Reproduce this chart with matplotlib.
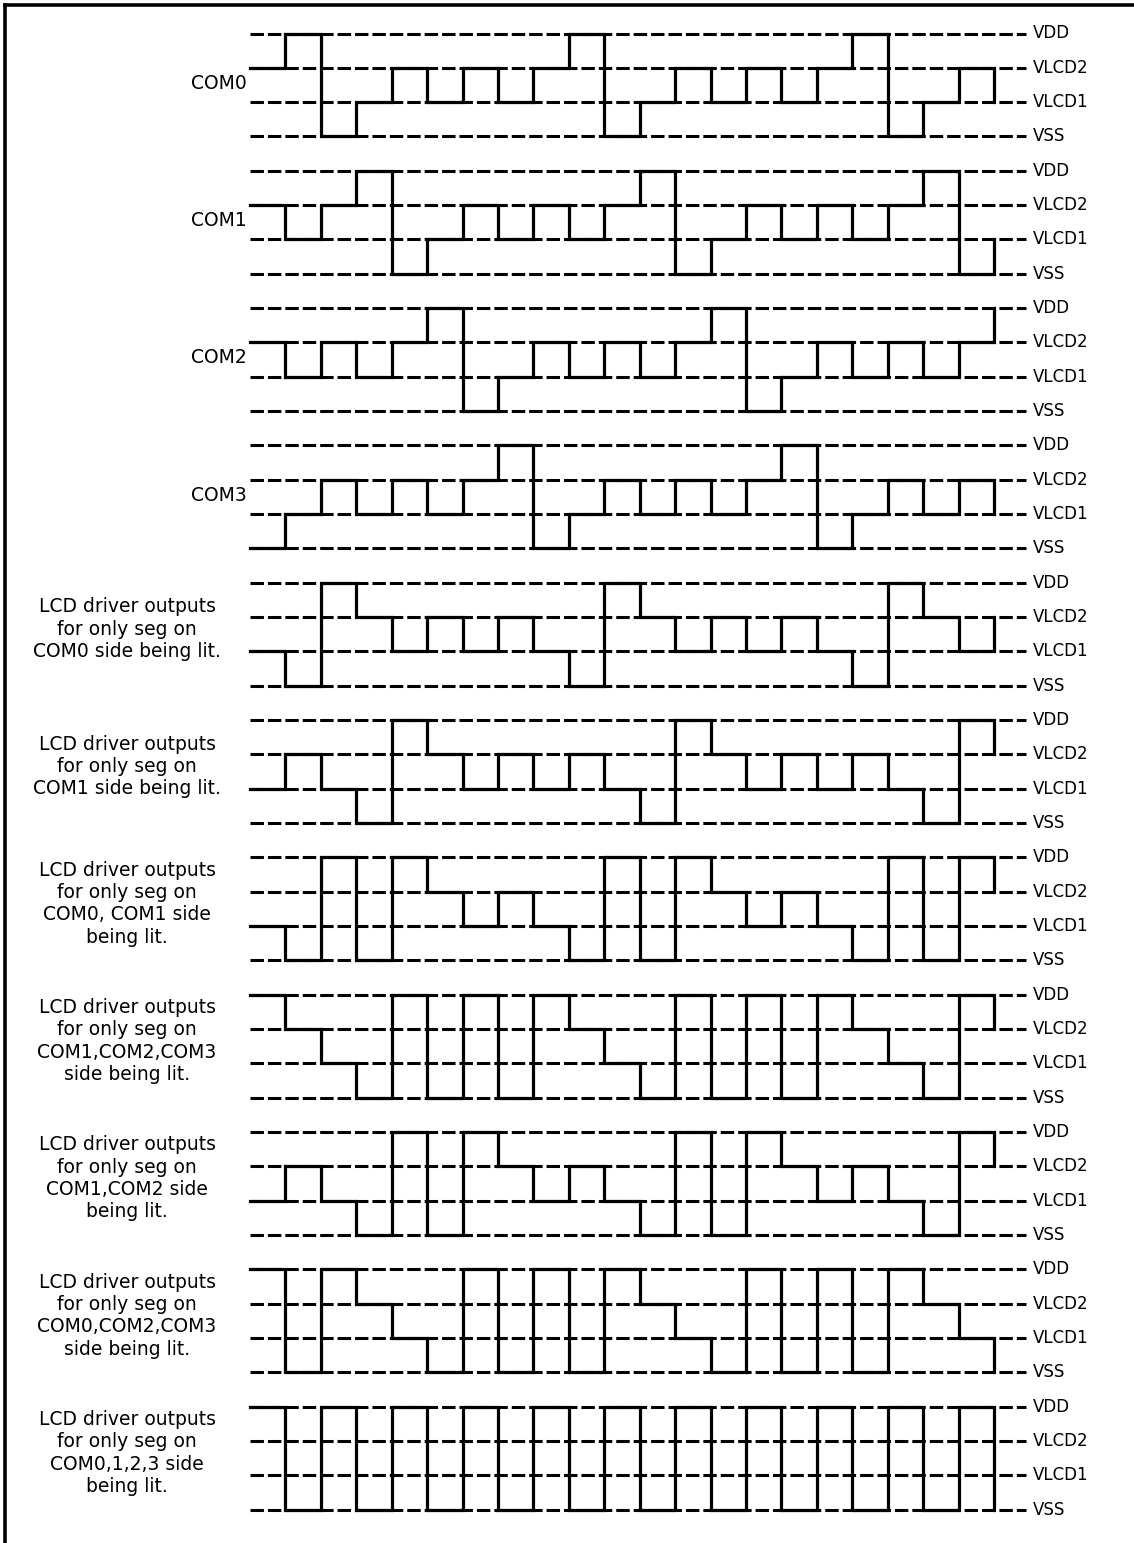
import numpy as np
import matplotlib.pyplot as plt

# Timing diagram: LCD 1/4 duty, 1/3 bias driver waveforms.
# Level index: 0 = VSS, 1 = VLCD1, 2 = VLCD2, 3 = VDD
# Each list = 21 time slots + the level of the closing edge.

level_names = ['VSS', 'VLCD1', 'VLCD2', 'VDD']

com0 = [2, 3, 0, 1, 2, 1, 2, 1, 2, 3, 0, 1, 2, 1, 2, 1, 2, 3, 0, 1, 2, 1]
com1 = [2, 1, 2, 3, 0, 1, 2, 1, 2, 1, 2, 3, 0, 1, 2, 1, 2, 1, 2, 3, 0, 1]
com2 = [2, 1, 2, 1, 2, 3, 0, 1, 2, 1, 2, 1, 2, 3, 0, 1, 2, 1, 2, 1, 2, 3]
com3 = [0, 1, 2, 1, 2, 1, 2, 3, 0, 1, 2, 1, 2, 1, 2, 3, 0, 1, 2, 1, 2, 1]

seg_com0 = [1, 0, 3, 2, 1, 2, 1, 2, 1, 0, 3, 2, 1, 2, 1, 2, 1, 0, 3, 2, 1, 2]
seg_com1 = [1, 2, 1, 0, 3, 2, 1, 2, 1, 2, 1, 0, 3, 2, 1, 2, 1, 2, 1, 0, 3, 2]
seg_com01 = [1, 0, 3, 0, 3, 2, 1, 2, 1, 0, 3, 0, 3, 2, 1, 2, 1, 0, 3, 0, 3, 2]
seg_com123 = [3, 2, 1, 0, 3, 0, 3, 0, 3, 2, 1, 0, 3, 0, 3, 0, 3, 2, 1, 0, 3, 2]
seg_com12 = [1, 2, 1, 0, 3, 0, 3, 2, 1, 2, 1, 0, 3, 0, 3, 2, 1, 2, 1, 0, 3, 2]
seg_com023 = [3, 0, 3, 2, 1, 0, 3, 0, 3, 0, 3, 2, 1, 0, 3, 0, 3, 0, 3, 2, 1, 0]
seg_all = [3, 0, 3, 0, 3, 0, 3, 0, 3, 0, 3, 0, 3, 0, 3, 0, 3, 0, 3, 0, 3, 0]

waves = [com0, com1, com2, com3,
         seg_com0, seg_com1, seg_com01, seg_com123, seg_com12, seg_com023, seg_all]

com_labels = ['COM0', 'COM1', 'COM2', 'COM3']
seg_labels = [
    'LCD driver outputs\nfor only seg on\nCOM0 side being lit.',
    'LCD driver outputs\nfor only seg on\nCOM1 side being lit.',
    'LCD driver outputs\nfor only seg on\nCOM0, COM1 side\nbeing lit.',
    'LCD driver outputs\nfor only seg on\nCOM1,COM2,COM3\nside being lit.',
    'LCD driver outputs\nfor only seg on\nCOM1,COM2 side\nbeing lit.',
    'LCD driver outputs\nfor only seg on\nCOM0,COM2,COM3\nside being lit.',
    'LCD driver outputs\nfor only seg on\nCOM0,1,2,3 side\nbeing lit.',
]

plt.rcParams['font.family'] = ['DejaVu Sans']

W, H = 1134, 1543
fig = plt.figure(figsize=(W / 100, H / 100), dpi=100)
ax = fig.add_axes([0, 0, 1, 1])

# pixel geometry of the original drawing
slot_px = 35.43
x0_px = 250.0
unit_px = 34.33
top_px = 33.5
ax.set_xlim(-x0_px / slot_px, (W - x0_px) / slot_px)
ax.set_ylim(-(H - top_px) / unit_px, top_px / unit_px)
ax.axis('off')

n_slots = len(com0) - 1
t = np.arange(n_slots + 1)
line_end = 21.9
label_x = 22.1
dash = (0, (4.4, 1.3))

for i, wave in enumerate(waves):
    base = -4 * i - 3  # y of VSS for this panel
    for lvl, name in enumerate(level_names):
        ax.plot([0, line_end], [base + lvl, base + lvl], color='black',
                lw=2.2, linestyle=dash, zorder=1)
        ax.text(label_x, base + lvl, name, ha='left', va='center', fontsize=12)
    ax.step(t, base + np.array(wave), where='post', color='black', lw=2.3,
            zorder=2, solid_joinstyle='miter')

    if i < len(com_labels):
        ax.text(-0.1, base + 3 - 1.45, com_labels[i], ha='right', va='center',
                fontsize=13.5)
    else:
        ax.text(-3.47, base + 3 - 1.35, seg_labels[i - len(com_labels)],
                ha='center', va='center', fontsize=13.5, linespacing=1.22)

# page frame (left and top edges)
ax.plot([0.0045, 0.0045], [0, 0.997], transform=ax.transAxes, color='black',
        lw=2.6, clip_on=False)
ax.plot([0.0045, 1], [0.997, 0.997], transform=ax.transAxes, color='black',
        lw=2.6, clip_on=False)

fig.savefig('out.png', dpi=100)
